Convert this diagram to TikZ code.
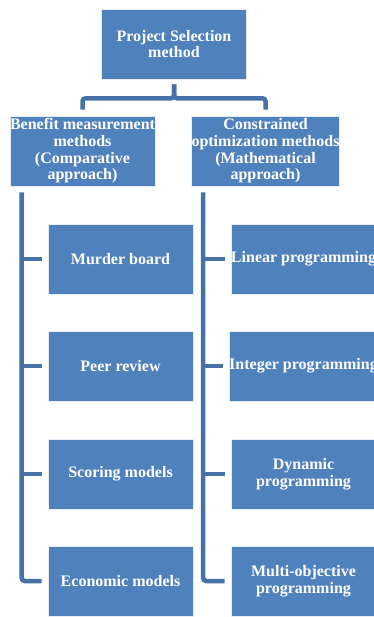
\documentclass[tikz,border=0pt]{standalone}
\usepackage{fontspec}
\setmainfont{Liberation Serif}
\usepackage{tikz}

\definecolor{boxblue}{HTML}{4F81BD}
\definecolor{lineblue}{HTML}{4672A8}

\begin{document}
\begin{tikzpicture}[x=1pt, y=-1pt,
    box/.style={draw=white!85!boxblue, line width=0.6pt, fill=boxblue, text=white,
        minimum width=145, minimum height=70, inner sep=0pt, align=center,
        font=\fontsize{16}{16.7}\selectfont\bfseries},
    link/.style={draw=lineblue, line width=4.5pt, rounded corners=3pt}]
    \useasboundingbox (0,0) rectangle (373,617);

    \node[box] (top) at (174,44) {Project Selection\\method};
    \node[box] (bmm) at (82.5,151) {Benefit measurement\\methods\\(Comparative\\approach)};
    \node[box] (com) at (265.5,151) {Constrained\\optimization methods\\(Mathematical\\approach)};

    \draw[link] ([yshift=-5pt]top.south) -- ++(0,14) -| ([yshift=6pt]bmm.north);
    \draw[link] ([yshift=-5pt]top.south) -- ++(0,14) -| ([yshift=6pt]com.north);

    % left column
    \foreach \n/\y/\t in {mb/259/Murder board, pr/366/Peer review,
                          sm/474/Scoring models, em/581/Economic models} {
        \node[box] (\n) at (120.5,\y) {\t};
    }
    \draw[link] ([xshift=12pt,yshift=-6pt]bmm.south west) |- ([xshift=-6pt]em.west);
    \foreach \n in {mb,pr,sm} {
        \draw[link] ([xshift=12pt]bmm.south west |- \n.west) -- ([xshift=-6pt]\n.west);
    }

    % right column
    \foreach \n/\y/\t in {lp/259/Linear programming, ip/366/Integer programming,
                          dp/474/Dynamic\\programming, mo/581/Multi-objective\\programming} {
        \node[box] (\n) at (303.5,\y) {\t};
    }
    \draw[link] ([xshift=12pt,yshift=-6pt]com.south west) |- ([xshift=-6pt]mo.west);
    \foreach \n in {lp,ip,dp} {
        \draw[link] ([xshift=12pt]com.south west |- \n.west) -- ([xshift=-6pt]\n.west);
    }
\end{tikzpicture}
\end{document}
